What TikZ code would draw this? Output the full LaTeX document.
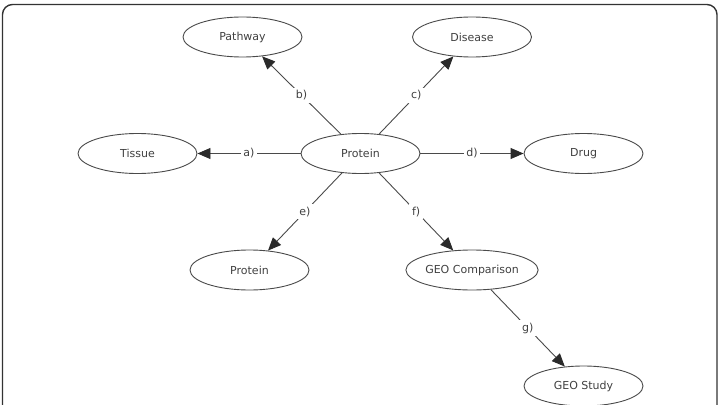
\documentclass[tikz,border=0pt]{standalone}
\usepackage{fontspec}
\setmainfont{DejaVu Sans}
\usetikzlibrary{shapes.geometric,arrows.meta}
\definecolor{txt}{HTML}{404040}
\definecolor{ln}{HTML}{4A4A4A}
\definecolor{tip}{HTML}{2A2A2A}
\tikzset{
  ent/.style={ellipse, draw=ln, line width=0.9pt, minimum width=119pt, minimum height=40pt, inner sep=0pt, text=txt, font=\fontsize{11}{13}\selectfont},
  rel/.style={draw=ln, line width=0.9pt, -{Triangle[length=13pt,width=11pt,fill=tip,color=tip]}},
  lab/.style={fill=white, inner sep=2.8pt, text=txt, font=\fontsize{11}{13}\selectfont}
}
\begin{document}
\begin{tikzpicture}[x=1pt,y=-1pt]
\clip (0,0) rectangle (719,404);
\draw[line width=1.4pt, draw=black!80, rounded corners=10pt] (2.5,4.5) rectangle (717,430);
\node[ent] (prot) at (360.5,153.5) {Protein};
\node[ent] (path) at (242.5,37) {Pathway};
\node[ent] (dis) at (472,37) {Disease};
\node[ent] (tis) at (137.5,153.5) {Tissue};
\node[ent] (drug) at (583.5,153.5) {Drug};
\node[ent] (prot2) at (249.5,270) {Protein};
\node[ent] (geoc) at (472,270) {GEO Comparison};
\node[ent] (geos) at (583.5,386) {GEO Study};
\draw[rel] (prot) -- node[lab] {a)} (tis);
\draw[rel] (prot) -- node[lab] {b)} (path);
\draw[rel] (prot) -- node[lab] {c)} (dis);
\draw[rel] (prot) -- node[lab] {d)} (drug);
\draw[rel] (prot) -- node[lab] {e)} (prot2);
\draw[rel] (prot) -- node[lab] {f)} (geoc);
\draw[rel] (geoc) -- node[lab] {g)} (geos);
\end{tikzpicture}
\end{document}
